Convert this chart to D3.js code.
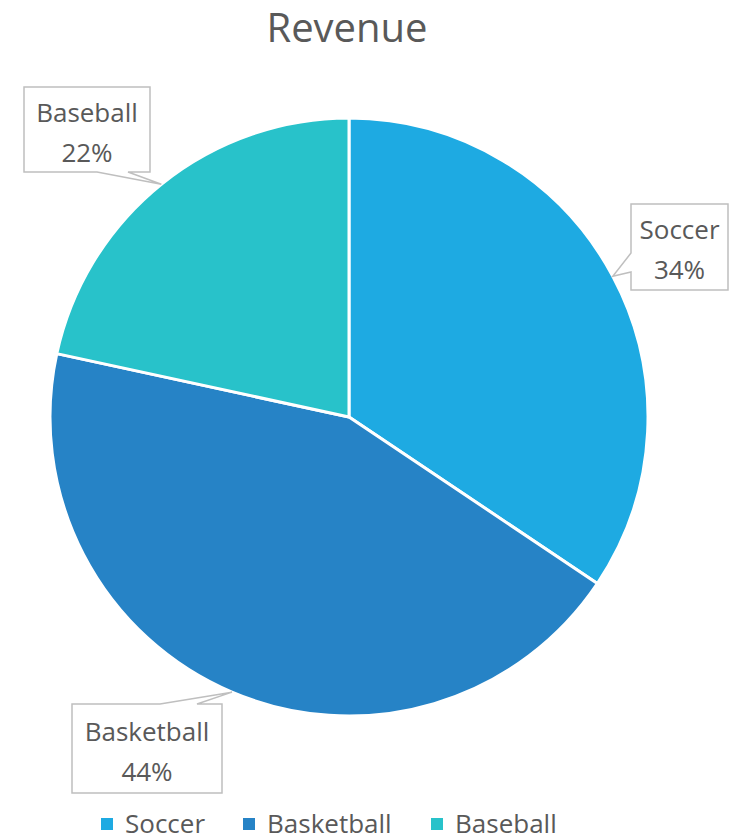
<!DOCTYPE html>
<html>
<head>
<meta charset="utf-8">
<script src="https://cdn.jsdelivr.net/npm/d3@7"></script>
<style>
  body { margin: 0; background: #fff; }
  text { font-family: "Open Sans", Lato, sans-serif; fill: #595959; }
</style>
</head>
<body>
<div id="chartTarget"></div>
<script>
  const categories = ['Soccer', 'Basketball', 'Baseball'];
  const revenue = [34.4, 44.0, 21.6];
  const colors = ['#1eaae2', '#2683c6', '#28c2ca'];

  let width = 729;
  let height = 836;
  let cx = 349, cy = 417, radius = 299;

  // callout boxes: [left, top, right, bottom], side where the pointer sits, pointer base
  let callouts = {
    Soccer:     {box: [631, 204, 728, 290], side: 'left',   base: [253, 272]},
    Basketball: {box: [72, 704, 222, 793],  side: 'top',    base: [160, 197]},
    Baseball:   {box: [24, 87, 150, 172],   side: 'bottom', base: [97, 128]}
  };

  let data = categories.map((c, i) => ({name: c, value: revenue[i], color: colors[i]}));
  let total = d3.sum(revenue);

  let svg = d3.select('#chartTarget').append('svg')
    .attr('width', width)
    .attr('height', height);

  svg.append('text')
    .attr('x', 347)
    .attr('y', 42)
    .style('text-anchor', 'middle')
    .style('font-size', '40px')
    .text('Revenue');

  let pie = d3.pie().sort(null).value(d => d.value);
  let arc = d3.arc().innerRadius(0).outerRadius(radius);
  let arcs = pie(data);

  let g = svg.append('g').attr('transform', `translate(${cx},${cy})`);

  g.selectAll('path.slice')
    .data(arcs)
    .enter().append('path')
      .attr('class', 'slice')
      .attr('d', arc)
      .attr('fill', d => d.data.color)
      .attr('stroke', '#fff')
      .attr('stroke-width', 3)
      .attr('stroke-linejoin', 'round');

  function calloutPath(c, tip) {
    let [l, t, r, b] = c.box;
    let [p1, p2] = c.base;
    let tx = tip[0], ty = tip[1];
    if (c.side === 'bottom') {
      return `M${l},${t}L${r},${t}L${r},${b}L${p2},${b}L${tx},${ty}L${p1},${b}L${l},${b}Z`;
    }
    if (c.side === 'top') {
      return `M${l},${t}L${p1},${t}L${tx},${ty}L${p2},${t}L${r},${t}L${r},${b}L${l},${b}Z`;
    }
    // left
    return `M${l},${t}L${r},${t}L${r},${b}L${l},${b}L${l},${p2}L${tx},${ty}L${l},${p1}Z`;
  }

  arcs.forEach(d => {
    let mid = (d.startAngle + d.endAngle) / 2;
    let tip = [cx + radius * Math.sin(mid), cy - radius * Math.cos(mid)];
    let c = callouts[d.data.name];
    let [l, t, r, b] = c.box;
    svg.append('path')
      .attr('d', calloutPath(c, tip))
      .attr('fill', '#fff')
      .attr('stroke', '#bfbfbf')
      .attr('stroke-width', 1.5);
    let mx = (l + r) / 2;
    let my = (t + b) / 2;
    svg.append('text')
      .attr('x', mx)
      .attr('y', my - 8)
      .style('text-anchor', 'middle')
      .style('font-size', '26px')
      .text(d.data.name);
    svg.append('text')
      .attr('x', mx)
      .attr('y', my + 32)
      .style('text-anchor', 'middle')
      .style('font-size', '26px')
      .text(Math.round(d.data.value / total * 100) + '%');
  });

  // legend
  let legendX = [101, 243, 431];
  let legend = svg.selectAll('g.legend')
    .data(data)
    .enter().append('g')
      .attr('class', 'legend')
      .attr('transform', (d, i) => `translate(${legendX[i]}, 818)`);

  legend.append('rect')
    .attr('width', 12)
    .attr('height', 12)
    .attr('fill', d => d.color);

  legend.append('text')
    .attr('x', 24)
    .attr('y', 15)
    .style('font-size', '26px')
    .text(d => d.name);
</script>
</body>
</html>
